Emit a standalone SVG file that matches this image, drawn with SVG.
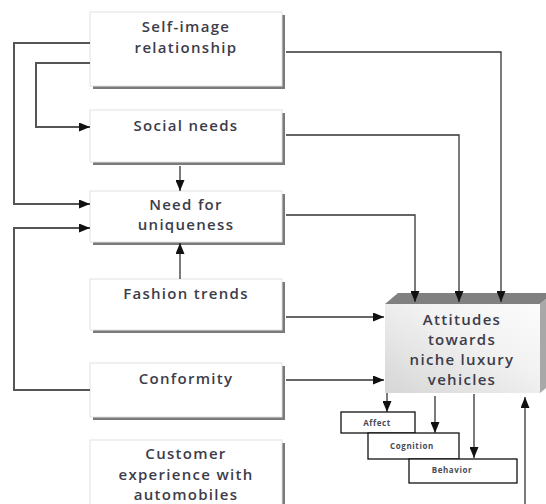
<svg xmlns="http://www.w3.org/2000/svg" width="546" height="504" viewBox="0 0 546 504">
  <defs>
    <marker id="arrow" markerUnits="userSpaceOnUse" markerWidth="11" markerHeight="9" viewBox="0 0 11 9" refX="11" refY="4.5" orient="auto">
      <path d="M0,0 L11,4.5 L0,9 Z" fill="#111"/>
    </marker>
    <linearGradient id="frontFill" x1="0" y1="1" x2="1" y2="0">
      <stop offset="0" stop-color="#d6d6d6"/>
      <stop offset="0.6" stop-color="#f2f2f2"/>
      <stop offset="1" stop-color="#fcfcfc"/>
    </linearGradient>
    <style>
      .box { fill: #ffffff; stroke: #e2e2e2; stroke-width: 1; }
      .shadow { fill: #7a7a7a; }
      .label { font-family: "Open Sans", "DejaVu Sans", sans-serif; font-size: 15px; font-weight: 600; fill: #3c3c4a; text-anchor: middle; letter-spacing: 1.3px; }
      .small { font-family: "Open Sans", "DejaVu Sans", sans-serif; font-size: 8px; font-weight: bold; fill: #4a4a55; text-anchor: middle; letter-spacing: 0.6px; }
      .sub { fill: #ffffff; stroke: #111; stroke-width: 1.3; }
      .conn { fill: none; stroke: #333; stroke-width: 1.3; }
      .loop { fill: none; stroke: #555; stroke-width: 2; }
    </style>
  </defs>

  <g id="self-image">
    <rect class="shadow" x="93" y="15" width="192" height="74"/>
    <rect class="box" x="90" y="12" width="192" height="74"/>
    <text class="label" x="186" y="32">Self-image</text>
    <text class="label" x="186" y="53">relationship</text>
  </g>

  <g id="social-needs">
    <rect class="shadow" x="93" y="113" width="192" height="52"/>
    <rect class="box" x="90" y="110" width="192" height="52"/>
    <text class="label" x="186" y="131">Social needs</text>
  </g>

  <g id="need-for-uniqueness">
    <rect class="shadow" x="93" y="194" width="192" height="51"/>
    <rect class="box" x="90" y="191" width="192" height="51"/>
    <text class="label" x="186" y="210">Need for</text>
    <text class="label" x="186" y="230">uniqueness</text>
  </g>

  <g id="fashion-trends">
    <rect class="shadow" x="93" y="282" width="192" height="51"/>
    <rect class="box" x="90" y="279" width="192" height="51"/>
    <text class="label" x="186" y="299">Fashion trends</text>
  </g>

  <g id="conformity">
    <rect class="shadow" x="93" y="366" width="192" height="54"/>
    <rect class="box" x="90" y="363" width="192" height="54"/>
    <text class="label" x="186" y="384">Conformity</text>
  </g>

  <g id="customer-experience">
    <rect class="shadow" x="93" y="443" width="192" height="80"/>
    <rect class="box" x="90" y="440" width="192" height="80"/>
    <text class="label" x="186" y="459">Customer</text>
    <text class="label" x="186" y="480">experience with</text>
    <text class="label" x="186" y="500">automobiles</text>
  </g>

  <g id="attitudes">
    <polygon points="385,304 398,293 553,293 540,304" fill="#808080"/>
    <polygon points="540,304 553,293 553,382 540,393" fill="#a8a8a8"/>
    <rect x="385" y="304" width="155" height="89" fill="url(#frontFill)"/>
    <text class="label" x="462" y="325">Attitudes</text>
    <text class="label" x="462" y="345">towards</text>
    <text class="label" x="462" y="365">niche luxury</text>
    <text class="label" x="462" y="385">vehicles</text>
  </g>

  <g id="affect">
    <rect class="sub" x="341" y="412" width="74" height="21"/>
    <text class="small" x="377" y="426">Affect</text>
  </g>

  <g id="cognition">
    <rect class="sub" x="368" y="433" width="91" height="26"/>
    <text class="small" x="412" y="449">Cognition</text>
  </g>

  <g id="behavior">
    <rect class="sub" x="409" y="459" width="108" height="24"/>
    <text class="small" x="452" y="473">Behavior</text>
  </g>

  <!-- connectors, drawn last so arrowheads sit over the box faces -->
  <g id="connectors">
    <path class="loop" d="M90,43 H14 V204 H90" marker-end="url(#arrow)"/>
    <path class="loop" d="M90,63 H36 V127 H90" marker-end="url(#arrow)"/>
    <path class="loop" d="M90,390 H14 V228 H90" marker-end="url(#arrow)"/>
    <path class="conn" d="M180,166 V191" marker-end="url(#arrow)"/>
    <path class="conn" d="M180,279 V243" marker-end="url(#arrow)"/>
    <path class="conn" d="M286,52 H501 V302" marker-end="url(#arrow)"/>
    <path class="conn" d="M286,135 H459 V302" marker-end="url(#arrow)"/>
    <path class="conn" d="M286,215 H415 V302" marker-end="url(#arrow)"/>
    <path class="conn" d="M286,317 H384" marker-end="url(#arrow)"/>
    <path class="conn" d="M286,380 H384" marker-end="url(#arrow)"/>
    <path class="conn" d="M387,393 V412" marker-end="url(#arrow)"/>
    <path class="conn" d="M435,396 V433" marker-end="url(#arrow)"/>
    <path class="conn" d="M474,394 V458" marker-end="url(#arrow)"/>
    <path class="conn" d="M525,504 V397" marker-end="url(#arrow)"/>
  </g>
</svg>
